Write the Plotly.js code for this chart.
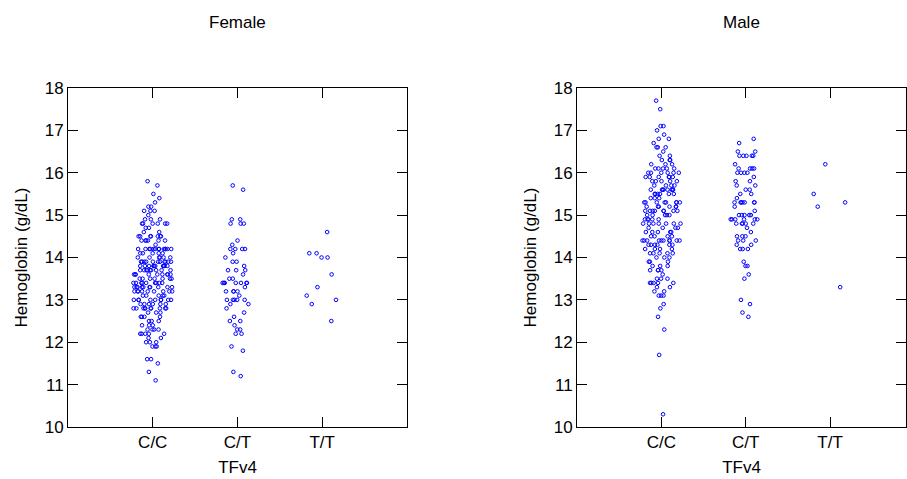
<!DOCTYPE html>
<html>
<head>
<meta charset="utf-8">
<script src="https://cdn.plot.ly/plotly-3.0.1.min.js"></script>
<style>
  html, body { margin: 0; padding: 0; background: #ffffff; }
  #chart { width: 907px; height: 479px; }
</style>
</head>
<body>
<div id="chart"></div>
<script>
// ---- data ----
const genotypes = ['C/C', 'C/T', 'T/T'];
const panelTitles = ['Female', 'Male'];
const yTickValues = [10, 11, 12, 13, 14, 15, 16, 17, 18];

const femaleCC = [
  15.8, 15.7, 15.5, 15.4, 15.3, 15.2, 15.2, 15.1, 15.1, 15.1, 15.0,
  14.9, 14.9, 14.9, 14.8, 14.8, 14.8, 14.8, 14.8, 14.8, 14.7, 14.7, 14.6, 14.6,
  14.5, 14.5, 14.5, 14.5, 14.5, 14.5, 14.5, 14.4, 14.4, 14.4, 14.4, 14.4, 14.4, 14.3,
  14.2, 14.2, 14.2, 14.2, 14.2, 14.2, 14.2, 14.2, 14.2, 14.2, 14.2, 14.2, 14.2,
  14.1, 14.1, 14.1, 14.1, 14.1, 14.0, 14.0, 14.0, 14.0, 14.0, 14.0,
  13.9, 13.9, 13.9, 13.9, 13.9, 13.9, 13.9, 13.9, 13.9, 13.9, 13.9,
  13.8, 13.8, 13.8, 13.8, 13.8, 13.8, 13.8, 13.8, 13.8, 13.8,
  13.7, 13.7, 13.7, 13.7, 13.7, 13.7, 13.7, 13.7, 13.7,
  13.6, 13.6, 13.6, 13.6, 13.6, 13.6, 13.6, 13.6, 13.6,
  13.5, 13.5, 13.5, 13.5, 13.5, 13.5, 13.5,
  13.4, 13.4, 13.4, 13.4, 13.4, 13.4, 13.4, 13.4, 13.4,
  13.3, 13.3, 13.3, 13.3, 13.3, 13.3, 13.3, 13.3, 13.3, 13.3,
  13.2, 13.2, 13.2, 13.2, 13.2, 13.2, 13.2, 13.2, 13.2,
  13.1, 13.1, 13.1, 13.1, 13.1,
  13.0, 13.0, 13.0, 13.0, 13.0, 13.0, 13.0, 13.0, 13.0,
  12.9, 12.9, 12.9, 12.9, 12.9, 12.9,
  12.8, 12.8, 12.8, 12.8, 12.8, 12.8, 12.8, 12.8, 12.8, 12.8,
  12.7, 12.7, 12.7, 12.6, 12.6, 12.6, 12.6, 12.5, 12.5, 12.5, 12.4, 12.4, 12.4,
  12.3, 12.3, 12.3, 12.3, 12.2, 12.2, 12.2, 12.2, 12.2, 12.1, 12.1,
  12.0, 12.0, 12.0, 11.9, 11.9, 11.9, 11.6, 11.6, 11.5, 11.3, 11.1
];
const femaleCT = [
  15.7, 15.6, 14.9, 14.9, 14.8, 14.8, 14.8, 14.4, 14.3, 14.2, 14.2, 14.2, 14.2,
  14.1, 14.0, 13.9, 13.9, 13.8, 13.7, 13.7, 13.7, 13.6, 13.5, 13.5,
  13.4, 13.4, 13.4, 13.4, 13.4, 13.4, 13.4, 13.3, 13.2, 13.2, 13.2, 13.2, 13.1,
  13.0, 13.0, 13.0, 13.0, 13.0, 12.9, 12.9, 12.8, 12.7, 12.6, 12.5, 12.5, 12.4,
  12.3, 12.3, 12.2, 12.2, 11.9, 11.8, 11.3, 11.2
];
const femaleTT = [14.6, 14.1, 14.1, 14.0, 14.0, 13.6, 13.3, 13.1, 13.0, 12.9, 12.5];

const maleCC = [
  17.7, 17.5, 17.1, 17.1, 17.0, 16.9, 16.8, 16.8, 16.7, 16.6, 16.6, 16.6, 16.5,
  16.4, 16.4, 16.3, 16.3, 16.3, 16.2, 16.2, 16.2,
  16.1, 16.1, 16.1, 16.1, 16.1, 16.0, 16.0, 16.0, 16.0, 16.0, 16.0,
  15.9, 15.9, 15.9, 15.9, 15.9, 15.9, 15.8, 15.8, 15.8, 15.8, 15.8,
  15.7, 15.7, 15.7, 15.7, 15.6, 15.6, 15.6, 15.6, 15.6, 15.6, 15.6, 15.6,
  15.5, 15.5, 15.5, 15.5, 15.5, 15.5, 15.4, 15.4, 15.4,
  15.3, 15.3, 15.3, 15.3, 15.3, 15.3, 15.3, 15.3, 15.2, 15.2, 15.2, 15.2, 15.2, 15.2,
  15.1, 15.1, 15.1, 15.1, 15.1, 15.1, 15.1, 15.1, 15.0, 15.0, 15.0, 15.0, 15.0,
  14.9, 14.9, 14.9, 14.9, 14.9, 14.8, 14.8, 14.8, 14.8, 14.8, 14.8, 14.8,
  14.7, 14.7, 14.7, 14.7, 14.6, 14.6, 14.6, 14.6, 14.6, 14.5, 14.5, 14.5, 14.5,
  14.4, 14.4, 14.4, 14.4, 14.4, 14.4, 14.4, 14.4, 14.4, 14.4,
  14.3, 14.3, 14.3, 14.3, 14.3, 14.3, 14.2, 14.2, 14.2, 14.2,
  14.1, 14.1, 14.1, 14.1, 14.1, 14.0, 14.0, 14.0, 13.9, 13.9, 13.9,
  13.8, 13.8, 13.8, 13.7, 13.7, 13.7, 13.7, 13.6, 13.5, 13.5, 13.5,
  13.4, 13.4, 13.4, 13.4, 13.4, 13.3, 13.3, 13.2, 13.2, 13.1, 13.1, 13.1,
  12.9, 12.8, 12.6, 12.3, 11.7, 10.3
];
const maleCT = [
  16.8, 16.7, 16.5, 16.5, 16.4, 16.4, 16.4, 16.4, 16.4, 16.2,
  16.1, 16.1, 16.1, 16.1, 16.0, 16.0, 16.0, 16.0, 15.9, 15.8, 15.8,
  15.7, 15.7, 15.6, 15.6, 15.5, 15.5, 15.4,
  15.3, 15.3, 15.3, 15.3, 15.3, 15.3, 15.3, 15.2, 15.1,
  15.0, 15.0, 15.0, 15.0, 15.0, 14.9, 14.9, 14.9, 14.9, 14.9, 14.9,
  14.8, 14.8, 14.8, 14.8, 14.8, 14.7, 14.6, 14.5, 14.5, 14.5,
  14.4, 14.4, 14.4, 14.3, 14.3, 14.2, 14.2, 14.2,
  13.9, 13.8, 13.8, 13.6, 13.5, 13.0, 12.9, 12.7, 12.6
];
const maleTT = [16.2, 15.5, 15.3, 15.2, 13.3];

// ---- traces ----
const pointColor = '#0000ff';
function stripTrace(values, genotype, xa, ya) {
  return {
    type: 'box',
    x: values.map(() => genotype),
    y: values,
    xaxis: xa, yaxis: ya,
    boxpoints: 'all',
    jitter: 1,
    pointpos: 0,
    width: 0.46,
    fillcolor: 'rgba(0,0,0,0)',
    line: { width: 0, color: 'rgba(0,0,0,0)' },
    whiskerwidth: 0,
    marker: { symbol: 'circle-open', size: 3.6, color: pointColor,
              line: { width: 1, color: pointColor } },
    showlegend: false,
    hoverinfo: 'y'
  };
}

const data = [
  stripTrace(femaleCC, genotypes[0], 'x', 'y'),
  stripTrace(femaleCT, genotypes[1], 'x', 'y'),
  stripTrace(femaleTT, genotypes[2], 'x', 'y'),
  stripTrace(maleCC, genotypes[0], 'x2', 'y2'),
  stripTrace(maleCT, genotypes[1], 'x2', 'y2'),
  stripTrace(maleTT, genotypes[2], 'x2', 'y2')
];

const font = { family: 'Liberation Sans, Arial, sans-serif', size: 17, color: '#000000' };

function xAxis(domain, range, anchor) {
  return {
    domain: domain, anchor: anchor,
    type: 'category', categoryorder: 'array', categoryarray: genotypes,
    range: range,
    showline: true, linecolor: '#000000', linewidth: 1, mirror: 'ticks',
    ticks: 'inside', ticklen: 10, tickwidth: 1, tickcolor: '#000000',
    showgrid: false, zeroline: false,
    tickfont: font,
    title: { text: 'TFv4', font: font, standoff: 9 }
  };
}
function yAxis(anchor) {
  return {
    domain: [0.1086, 0.8163], anchor: anchor,
    range: [10, 18],
    tickvals: yTickValues, ticktext: yTickValues.map(String),
    showline: true, linecolor: '#000000', linewidth: 1, mirror: 'ticks',
    ticks: 'inside', ticklen: 10, tickwidth: 1, tickcolor: '#000000',
    showgrid: false, zeroline: false,
    tickfont: font,
    title: { text: 'Hemoglobin (g/dL)', font: font, standoff: 12 }
  };
}

const layout = {
  width: 907, height: 479,
  margin: { l: 0, r: 0, t: 0, b: 0 },
  paper_bgcolor: '#ffffff', plot_bgcolor: '#ffffff',
  font: font,
  boxmode: 'overlay',
  xaxis: xAxis([0.075, 0.4487], [-1, 3], 'y'),
  yaxis: yAxis('x'),
  xaxis2: xAxis([0.6362, 0.9989], [-1, 2.9], 'y2'),
  yaxis2: yAxis('x2'),
  annotations: [
    { text: panelTitles[0], xref: 'paper', yref: 'paper', x: 0.2618, y: 1 - 23 / 479,
      xanchor: 'center', yanchor: 'middle', showarrow: false, font: font },
    { text: panelTitles[1], xref: 'paper', yref: 'paper', x: 0.8175, y: 1 - 23 / 479,
      xanchor: 'center', yanchor: 'middle', showarrow: false, font: font }
  ]
};

Plotly.newPlot('chart', data, layout, { displayModeBar: false, staticPlot: true });
</script>
</body>
</html>
